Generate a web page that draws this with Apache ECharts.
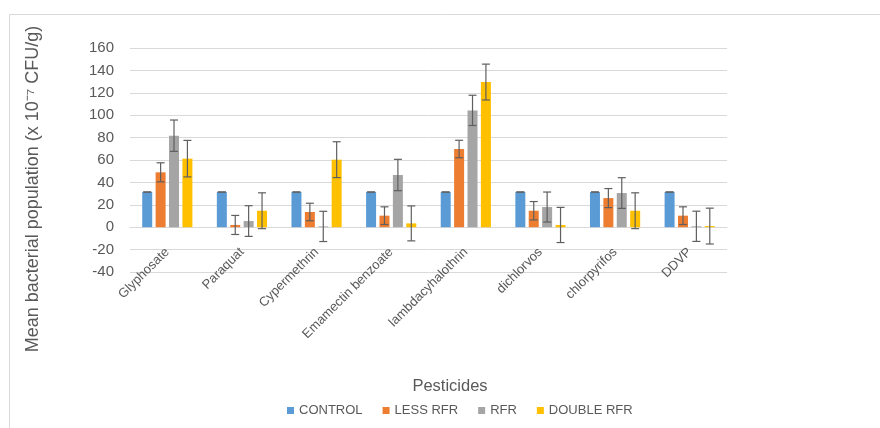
<!DOCTYPE html>
<html><head><meta charset="utf-8">
<script src="https://cdn.jsdelivr.net/npm/echarts@6/dist/echarts.min.js"></script>
<style>html,body{margin:0;padding:0;background:#fff}#c{width:880px;height:428px}</style>
</head><body><div id="c"></div>
<script>
const categories = ['Glyphosate','Paraquat','Cypermethrin','Emamectin benzoate','lambdacyhalothrin','dichlorvos','chlorpyrifos','DDVP'];
const seriesNames = ['CONTROL','LESS RFR','RFR','DOUBLE RFR'];
const control = [31.4,31.4,31.4,31.4,31.4,31.4,31.4,31.4];
const lessRfr = [49,2,13.6,10.3,69.8,14.7,26,10.3];
const rfr = [81.7,5.5,0.7,46.6,104.3,18,30.5,0.8];
const doubleRfr = [61.2,14.7,60.3,3.4,129.6,2,14.7,1];
const controlErr = [0,0,0,0,0,0,0,0];
const lessErr = [8.5,8.5,7.8,7.9,7.8,8.2,8.5,7.9];
const rfrErr = [14,13.7,13.5,14,13.5,13.4,13.7,13.5];
const doubleErr = [16.3,16,16,15.6,16,15.7,16,16];
const yTicks = {min:-40, max:160, interval:20};

const colors = ['#5B9BD5','#ED7D31','#A5A5A5','#FFC000'];
const values = [control, lessRfr, rfr, doubleRfr];
const errs = [controlErr, lessErr, rfrErr, doubleErr];
const FONT = 'Liberation Sans';
const TXT = '#595959';
const BW = 10, GAP = 0.34;

const chart = echarts.init(document.getElementById('c'));
const series = [];
values.forEach((v,i)=>{
  series.push({name:seriesNames[i], type:'bar', data:v, barWidth:BW, barGap:(GAP*100)+'%',
    itemStyle:{color:colors[i]}, z:2});
});
values.forEach((v,i)=>{
  series.push({type:'custom', silent:true, z:5,
    data: v.map((val,k)=>[k, val - errs[i][k], val + errs[i][k]]),
    renderItem:function(params, api){
      const lo = api.coord([api.value(0), api.value(1)]);
      const hi = api.coord([api.value(0), api.value(2)]);
      const x = lo[0] + (i - 1.5) * BW * (1 + GAP);
      const c = 4;
      const st = {stroke:'#5f5f5f', lineWidth:1.2};
      return {type:'group', children:[
        {type:'line', shape:{x1:x, y1:hi[1], x2:x, y2:lo[1]}, style:st},
        {type:'line', shape:{x1:x-c, y1:hi[1], x2:x+c, y2:hi[1]}, style:st},
        {type:'line', shape:{x1:x-c, y1:lo[1], x2:x+c, y2:lo[1]}, style:st}
      ]};
    }
  });
});

chart.setOption({
  animation:false,
  textStyle:{fontFamily:FONT},
  grid:{left:130, right:153, top:48, bottom:156, containLabel:false, outerBoundsMode:'none'},
  legend:{data:seriesNames, top:399, left:282, itemWidth:7, itemHeight:7, itemGap:20, icon:'rect',
    textStyle:{color:TXT, fontSize:13, fontFamily:FONT}},
  xAxis:{type:'category', data:categories,
    axisLine:{onZero:true, lineStyle:{color:'#d9d9d9'}}, axisTick:{show:false},
    axisLabel:{rotate:45, interval:0, color:TXT, fontSize:13, margin:-22, fontFamily:FONT}},
  yAxis:{type:'value', min:yTicks.min, max:yTicks.max, interval:yTicks.interval,
    axisLine:{show:false}, axisTick:{show:false},
    splitLine:{lineStyle:{color:'#d9d9d9'}},
    axisLabel:{color:TXT, fontSize:15, margin:16, fontFamily:FONT}},
  graphic:[
    {type:'line', shape:{x1:9.5, y1:14.5, x2:880, y2:14.5}, style:{stroke:'#d9d9d9', lineWidth:1}},
    {type:'line', shape:{x1:9.5, y1:14.5, x2:9.5, y2:428}, style:{stroke:'#d9d9d9', lineWidth:1}},
    {type:'text', x:33, y:189, rotation:Math.PI/2,
      style:{text:'Mean bacterial population (x 10\u207B\u2077 CFU/g)', fill:TXT, fontSize:18, fontFamily:FONT,
        textAlign:'center', textVerticalAlign:'middle'}},
    {type:'text', x:450, y:386,
      style:{text:'Pesticides', fill:TXT, fontSize:16.5, fontFamily:FONT,
        textAlign:'center', textVerticalAlign:'middle'}}
  ],
  series:series
});
</script></body></html>
